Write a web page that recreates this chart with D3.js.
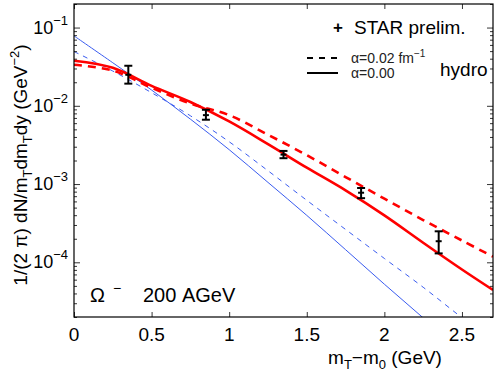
<!DOCTYPE html>
<html>
<head>
<meta charset="utf-8">
<script src="https://cdn.jsdelivr.net/npm/d3@7"></script>
<style>
  body { margin: 0; background: #fff; }
  text { font-family: "Liberation Sans", Arial, sans-serif; }
</style>
</head>
<body>
<div id="chart"></div>
<script>
// x grid for the hydro curves (GeV)
const gridX = [0, 0.25, 0.5, 0.75, 1.0, 1.25, 1.5, 1.75, 2.0, 2.25, 2.5, 2.7];

// red curves
const redSolid  = [0.0377, 0.0306, 0.0180, 0.0112, 0.00631, 0.00324, 0.00162, 8.3e-4, 3.98e-4, 1.78e-4, 8.1e-5, 4.43e-5];
const redDashed = [0.0335, 0.0282, 0.0170, 0.0107, 0.00759, 0.00427, 0.00234, 0.00123, 6.5e-4, 3.47e-4, 1.9e-4, 1.18e-4];

// blue curves (run off the bottom of the frame)
const blueSolid  = [0.0783, 0.0355, 0.0159, 0.00676, 0.00275, 0.00105, 3.98e-4, 1.45e-4, 5.25e-5, 1.95e-5, 7.2e-6, 3.3e-6];
const blueDashed = [0.0494, 0.0278, 0.0147, 0.00746, 0.00347, 0.00148, 6.2e-4, 2.63e-4, 1.12e-4, 4.8e-5, 1.96e-5, 9.8e-6];

// STAR preliminary points
const starX  = [0.35, 0.85, 1.35, 1.85, 2.35];
const starY  = [0.0249, 0.0076, 0.00238, 7.75e-4, 1.86e-4];
const starLo = [0.0192, 0.00664, 0.00214, 6.6e-4, 1.30e-4];
const starHi = [0.0325, 0.0089, 0.00265, 8.9e-4, 2.49e-4];

const xTicks = [0, 0.5, 1, 1.5, 2, 2.5];
const xTickLabels = ["0", "0.5", "1", "1.5", "2", "2.5"];
const yMajor = [1e-1, 1e-2, 1e-3, 1e-4];
const yExp = ["\u22121", "\u22122", "\u22123", "\u22124"];

const W = 497, H = 379;
const margin = { top: 4, right: 4, bottom: 62, left: 74 };
const width = W - margin.left - margin.right;
const height = H - margin.top - margin.bottom;

const svg = d3.select("#chart").append("svg")
    .attr("width", W)
    .attr("height", H);

const g = svg.append("g")
    .attr("transform", `translate(${margin.left},${margin.top})`);

const xScale = d3.scaleLinear().domain([0, 2.7]).range([0, width]);
const yScale = d3.scaleLog().domain([2e-5, 0.2]).range([height, 0]);

// clip for curves
g.append("defs").append("clipPath").attr("id", "clip")
    .append("rect").attr("width", width).attr("height", height);

const line = d3.line()
    .x(d => xScale(d[0]))
    .y(d => yScale(d[1]))
    .curve(d3.curveCatmullRom.alpha(0.5));

const curves = [
    { ys: blueSolid,  color: "#3a5cf0", w: 1,   dash: null },
    { ys: blueDashed, color: "#3a5cf0", w: 1,   dash: "5,5" },
    { ys: redDashed,  color: "#ff0000", w: 2.6, dash: "8,6" },
    { ys: redSolid,   color: "#ff0000", w: 2.6, dash: null }
];

const curveG = g.append("g").attr("clip-path", "url(#clip)");
curves.forEach(c => {
    curveG.append("path")
        .datum(gridX.map((x, i) => [x, c.ys[i]]))
        .attr("fill", "none")
        .attr("stroke", c.color)
        .attr("stroke-width", c.w)
        .attr("stroke-dasharray", c.dash)
        .attr("d", line);
});

// error bars
const pts = starX.map((x, i) => ({ x: x, y: starY[i], lo: starLo[i], hi: starHi[i] }));
const eb = g.append("g").attr("stroke", "#000").attr("stroke-width", 2);
pts.forEach(p => {
    const cx = xScale(p.x);
    eb.append("line").attr("x1", cx).attr("x2", cx).attr("y1", yScale(p.lo)).attr("y2", yScale(p.hi));
    eb.append("line").attr("x1", cx - 4).attr("x2", cx + 4).attr("y1", yScale(p.lo)).attr("y2", yScale(p.lo));
    eb.append("line").attr("x1", cx - 4).attr("x2", cx + 4).attr("y1", yScale(p.hi)).attr("y2", yScale(p.hi));
    eb.append("line").attr("x1", cx - 3).attr("x2", cx + 3).attr("y1", yScale(p.y)).attr("y2", yScale(p.y));
});

// axes (ticks pointing inward)
const yMinor = [];
for (let e = -5; e <= -1; e++) {
    for (let m = 2; m <= 9; m++) {
        const v = m * Math.pow(10, e);
        if (v >= 2e-5 && v <= 0.2) yMinor.push(v);
    }
}

function styleAxis(sel) {
    sel.selectAll(".domain").remove();
    sel.selectAll("line").attr("stroke", "#000").attr("stroke-width", 0.8);
}

g.append("g").call(d3.axisLeft(yScale).tickValues(yMajor).tickSize(-6).tickFormat("")).call(styleAxis);
g.append("g").call(d3.axisLeft(yScale).tickValues(yMinor).tickSize(-3).tickFormat("")).call(styleAxis);
g.append("g").attr("transform", `translate(${width},0)`)
    .call(d3.axisRight(yScale).tickValues(yMajor).tickSize(-6).tickFormat("")).call(styleAxis);
g.append("g").attr("transform", `translate(${width},0)`)
    .call(d3.axisRight(yScale).tickValues(yMinor).tickSize(-3).tickFormat("")).call(styleAxis);
g.append("g").attr("transform", `translate(0,${height})`)
    .call(d3.axisBottom(xScale).tickValues(xTicks).tickSize(-5).tickFormat("")).call(styleAxis);
g.append("g")
    .call(d3.axisTop(xScale).tickValues(xTicks).tickSize(-5).tickFormat("")).call(styleAxis);

// frame
g.append("rect")
    .attr("width", width).attr("height", height)
    .attr("fill", "none").attr("stroke", "#000").attr("stroke-width", 1.2);

// x tick labels
xTicks.forEach((t, i) => {
    g.append("text")
        .attr("x", xScale(t)).attr("y", height + 24)
        .attr("text-anchor", "middle")
        .style("font-size", "19px")
        .text(xTickLabels[i]);
});

// y tick labels 10^n
yMajor.forEach((v, i) => {
    const t = g.append("text")
        .attr("x", -6).attr("y", yScale(v) + 6)
        .attr("text-anchor", "end")
        .style("font-size", "18px");
    t.append("tspan").text("10");
    t.append("tspan").attr("dy", -9).style("font-size", "13px").text(yExp[i]);
});

// axis labels
const xl = svg.append("text")
    .attr("x", 385).attr("y", 364)
    .attr("text-anchor", "middle")
    .style("font-size", "19px");
xl.append("tspan").text("m");
xl.append("tspan").attr("dy", 5).style("font-size", "13px").text("T");
xl.append("tspan").attr("dy", -5).text("\u2212m");
xl.append("tspan").attr("dy", 5).style("font-size", "13px").text("0");
xl.append("tspan").attr("dy", -5).text(" (GeV)");

const yl = svg.append("text")
    .attr("transform", "translate(27,165) rotate(-90)")
    .attr("text-anchor", "middle")
    .style("font-size", "19px");
yl.append("tspan").text("1/(2 \u03c0) dN/m");
yl.append("tspan").attr("dy", 5).style("font-size", "13px").text("T");
yl.append("tspan").attr("dy", -5).text("dm");
yl.append("tspan").attr("dy", 5).style("font-size", "13px").text("T");
yl.append("tspan").attr("dy", -5).text("dy (GeV");
yl.append("tspan").attr("dy", -8).style("font-size", "13px").text("\u22122");
yl.append("tspan").attr("dy", 8).text(")");

// legend
svg.append("text").attr("x", 338).attr("y", 33).attr("text-anchor", "middle")
    .style("font-size", "17px").style("font-weight", "bold").text("+");
svg.append("text").attr("x", 354).attr("y", 34).style("font-size", "19px").text("STAR prelim.");

svg.append("line").attr("x1", 307).attr("x2", 338).attr("y1", 58).attr("y2", 58)
    .attr("stroke", "#000").attr("stroke-width", 2).attr("stroke-dasharray", "6,6");
svg.append("line").attr("x1", 307).attr("x2", 338).attr("y1", 73).attr("y2", 73)
    .attr("stroke", "#000").attr("stroke-width", 2);

const l1 = svg.append("text").attr("x", 351).attr("y", 63).style("font-size", "14px").attr("fill", "#222");
l1.append("tspan").text("\u03b1=0.02 fm");
l1.append("tspan").attr("dy", -6).style("font-size", "10px").text("\u22121");
svg.append("text").attr("x", 351).attr("y", 78).style("font-size", "14px").attr("fill", "#222").text("\u03b1=0.00");
svg.append("text").attr("x", 440).attr("y", 76).style("font-size", "19px").text("hydro");

// particle / energy annotation
const ann = svg.append("text").attr("x", 90).attr("y", 302).style("font-size", "20px");
ann.append("tspan").text("\u03a9");
ann.append("tspan").attr("dx", 8).attr("dy", -9).style("font-size", "14px").text("\u2212");
ann.append("tspan").attr("x", 143).attr("dy", 9).text("200 AGeV");
</script>
</body>
</html>
